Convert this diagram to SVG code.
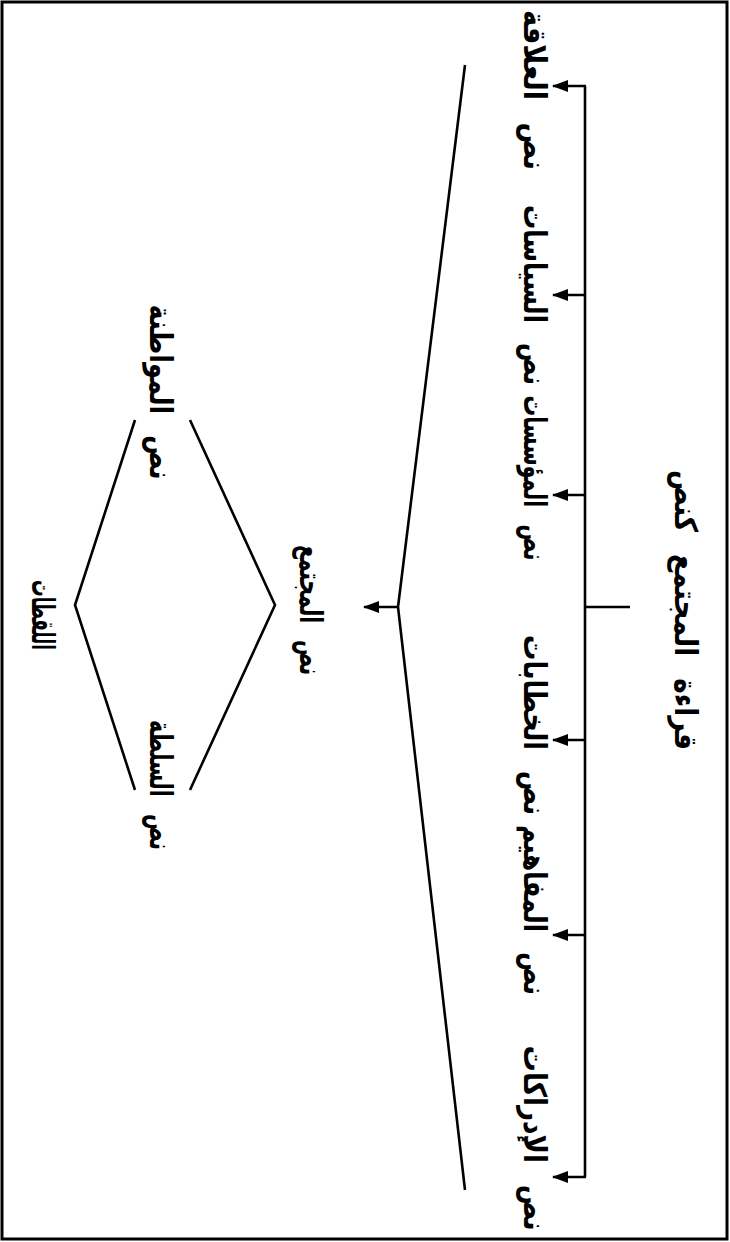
<svg xmlns="http://www.w3.org/2000/svg" width="730" height="1242" viewBox="0 0 730 1242">
<style>
.t{font-family:"DejaVu Sans","Noto Sans",sans-serif;font-weight:bold;font-size:25px;fill:#000;text-anchor:middle;dominant-baseline:central;word-spacing:12px}
.ln{stroke:#000;stroke-width:2.6;fill:none}
.ar{stroke:#000;stroke-width:2.4;fill:none;marker-end:url(#ah)}
</style>
<defs>
<marker id="ah" markerWidth="16" markerHeight="12" refX="15" refY="6" orient="auto" markerUnits="userSpaceOnUse">
<path d="M0,0 L16,6 L0,12 Z" fill="#000"/>
</marker>
</defs>
<rect x="2" y="2" width="725" height="1237" fill="#fff" stroke="#000" stroke-width="3"/>
<g id="connectors">
<line class="ln" x1="630" y1="607" x2="585" y2="607"/>
<line class="ln" x1="585" y1="86" x2="585" y2="1177"/>
<line class="ar" x1="586" y1="86" x2="553" y2="86"/>
<line class="ar" x1="586" y1="295" x2="553" y2="295"/>
<line class="ar" x1="586" y1="495" x2="553" y2="495"/>
<line class="ar" x1="586" y1="740" x2="553" y2="740"/>
<line class="ar" x1="586" y1="935" x2="553" y2="935"/>
<line class="ar" x1="586" y1="1177" x2="553" y2="1177"/>
<polyline class="ln" points="465,65 398,607 465,1190"/>
<line class="ar" x1="398" y1="607" x2="364" y2="607"/>
<polyline class="ln" points="190,420 275,605 190,790"/>
<polyline class="ln" points="135,420 75,605 135,790"/>
</g>
<g id="title"><text class="t" transform="translate(685,610) rotate(90) scale(1,1.25)" textLength="280" lengthAdjust="spacingAndGlyphs">قراءة المجتمع كنص</text></g>
<g id="n1"><text class="t" transform="translate(534,90) rotate(90) scale(1,1.25)" textLength="160" lengthAdjust="spacingAndGlyphs">نص العلاقة</text></g>
<g id="n2"><text class="t" transform="translate(534,295) rotate(90) scale(1,1.25)" textLength="180" lengthAdjust="spacingAndGlyphs">نص السياسات</text></g>
<g id="n3"><text class="t" transform="translate(534,478) rotate(90) scale(1,1.25)" textLength="165" lengthAdjust="spacingAndGlyphs">نص المؤسسات</text></g>
<g id="n4"><text class="t" transform="translate(534,725) rotate(90) scale(1,1.25)" textLength="180" lengthAdjust="spacingAndGlyphs">نص الخطابات</text></g>
<g id="n5"><text class="t" transform="translate(534,910) rotate(90) scale(1,1.25)" textLength="170" lengthAdjust="spacingAndGlyphs">نص المفاهيم</text></g>
<g id="n6"><text class="t" transform="translate(534,1138) rotate(90) scale(1,1.25)" textLength="185" lengthAdjust="spacingAndGlyphs">نص الإدراكات</text></g>
<g id="society"><text class="t" transform="translate(310,610) rotate(90) scale(1,1.25)" textLength="130" lengthAdjust="spacingAndGlyphs">نص المجتمع</text></g>
<g id="citizenship"><text class="t" transform="translate(160,392) rotate(90) scale(1,1.25)" textLength="175" lengthAdjust="spacingAndGlyphs">نص المواطنة</text></g>
<g id="authority"><text class="t" transform="translate(160,785) rotate(90) scale(1,1.25)" textLength="130" lengthAdjust="spacingAndGlyphs">نص السلطة</text></g>
<g id="snapshots"><text class="t" transform="translate(42,615) rotate(90) scale(1,1.25)" textLength="70" lengthAdjust="spacingAndGlyphs">اللقطات</text></g>
</svg>
